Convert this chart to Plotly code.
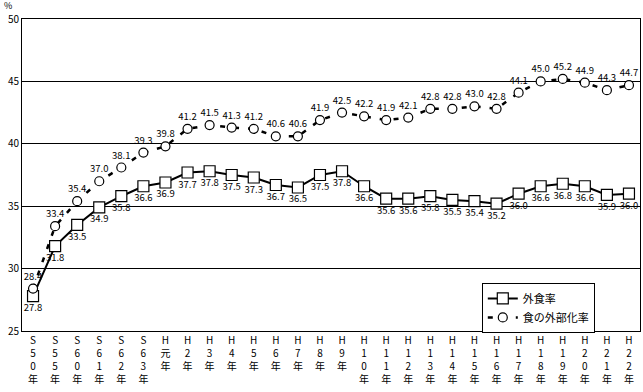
import plotly.graph_objects as go

categories = ["S<br>5<br>0<br>年", "S<br>5<br>5<br>年", "S<br>6<br>0<br>年", "S<br>6<br>1<br>年",
              "S<br>6<br>2<br>年", "S<br>6<br>3<br>年", "H<br>元<br>年"] + \
             ["H<br>%d<br>年" % i for i in range(2, 10)] + \
             ["H<br>%s<br>%s<br>年" % (str(i)[0], str(i)[1]) for i in range(10, 23)]

gaishoku = [27.8, 31.8, 33.5, 34.9, 35.8, 36.6, 36.9, 37.7, 37.8, 37.5, 37.3, 36.7, 36.5, 37.5,
            37.8, 36.6, 35.6, 35.6, 35.8, 35.5, 35.4, 35.2, 36.0, 36.6, 36.8, 36.6, 35.9, 36.0]
gaibuka = [28.4, 33.4, 35.4, 37.0, 38.1, 39.3, 39.8, 41.2, 41.5, 41.3, 41.2, 40.6, 40.6, 41.9,
           42.5, 42.2, 41.9, 42.1, 42.8, 42.8, 43.0, 42.8, 44.1, 45.0, 45.2, 44.9, 44.3, 44.7]

names = ["外食率", "食の外部化率"]
yticks = [25, 30, 35, 40, 45, 50]

font = "Noto Sans CJK JP"
x = list(range(len(categories)))

fig = go.Figure()
fig.add_trace(go.Scatter(
    x=x, y=gaishoku, name=names[0], mode="lines+markers+text",
    line=dict(color="black", width=2),
    marker=dict(symbol="square", size=11, color="white", line=dict(color="black", width=1.2)),
    text=["%.1f" % v for v in gaishoku], textposition="bottom center",
    textfont=dict(size=9.5, family=font, color="black"),
))
fig.add_trace(go.Scatter(
    x=x, y=gaibuka, name=names[1], mode="lines+markers+text",
    line=dict(color="black", width=2.5, dash="5px,9px"),
    marker=dict(symbol="circle", size=9, color="white", line=dict(color="black", width=1.2)),
    text=["%.1f" % v for v in gaibuka], textposition="top center",
    textfont=dict(size=9.5, family=font, color="black"),
))

fig.update_layout(
    width=643, height=392,
    margin=dict(l=22, r=3, t=19, b=61, autoexpand=False),
    paper_bgcolor="white", plot_bgcolor="white",
    font=dict(family=font, size=10, color="black"),
    showlegend=True,
    legend=dict(x=0.744, y=0.154, xanchor="left", yanchor="top",
                bordercolor="black", borderwidth=1, bgcolor="white",
                font=dict(size=11, family=font), tracegroupgap=2),
    xaxis=dict(tickmode="array", tickvals=x, ticktext=categories,
               range=[-0.5, len(categories) - 0.5], showgrid=False,
               showline=True, linecolor="black", linewidth=1, mirror=True,
               ticks="", tickfont=dict(size=10, family=font), zeroline=False,
               automargin=False),
    yaxis=dict(range=[25, 50], tickvals=yticks, showgrid=True, gridcolor="black", gridwidth=1,
               showline=True, linecolor="black", linewidth=1, mirror=True,
               ticks="", tickfont=dict(size=10, family=font), zeroline=False,
               automargin=False),
    annotations=[dict(text="%", xref="paper", yref="paper", x=-0.03, y=1.042,
                      xanchor="left", yanchor="middle", showarrow=False, borderpad=0,
                      font=dict(size=9, family=font))],
)

fig.write_html("out.html", config={"displayModeBar": False},
               post_script="document.body.style.margin='0';document.body.style.overflow='hidden';")
